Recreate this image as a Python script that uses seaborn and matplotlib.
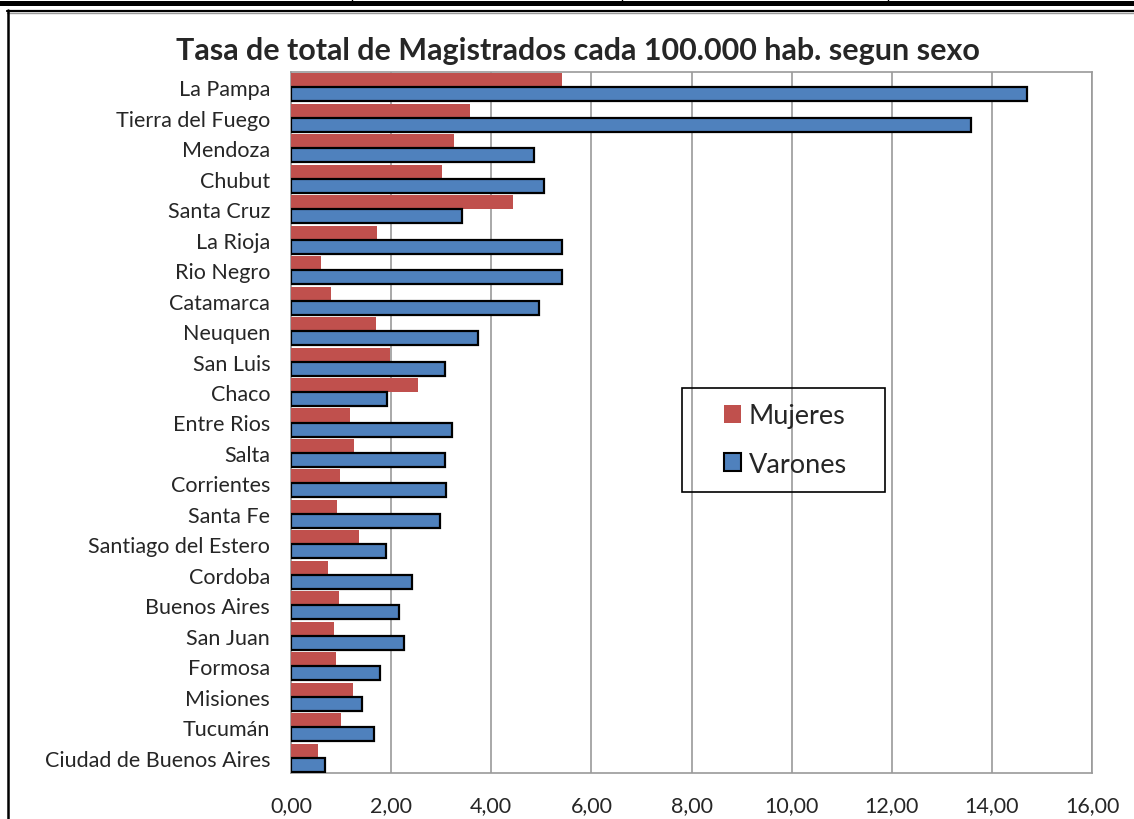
import matplotlib
matplotlib.use("Agg")
import matplotlib.pyplot as plt
import seaborn as sns
import pandas as pd
from matplotlib.lines import Line2D
from matplotlib.patches import Rectangle

provincias = ["La Pampa", "Tierra del Fuego", "Mendoza", "Chubut", "Santa Cruz",
              "La Rioja", "Rio Negro", "Catamarca", "Neuquen", "San Luis", "Chaco",
              "Entre Rios", "Salta", "Corrientes", "Santa Fe", "Santiago del Estero",
              "Cordoba", "Buenos Aires", "San Juan", "Formosa", "Misiones", "Tucumán",
              "Ciudad de Buenos Aires"]
mujeres = [5.41, 3.58, 3.25, 3.01, 4.44, 1.71, 0.60, 0.79, 1.70, 1.98, 2.54,
           1.18, 1.26, 0.97, 0.91, 1.35, 0.73, 0.96, 0.85, 0.90, 1.23, 0.99, 0.53]
varones = [14.70, 13.58, 4.85, 5.06, 3.42, 5.41, 5.41, 4.95, 3.74, 3.08, 1.92,
           3.22, 3.07, 3.09, 2.98, 1.90, 2.42, 2.16, 2.25, 1.78, 1.41, 1.65, 0.67]
series = ["Mujeres", "Varones"]
xticks = [0, 2, 4, 6, 8, 10, 12, 14, 16]
title = "Tasa de total de Magistrados cada 100.000 hab. segun sexo"

df = pd.DataFrame({
    "Provincia": provincias * 2,
    "Tasa": mujeres + varones,
    "Sexo": [series[0]] * len(provincias) + [series[1]] * len(provincias),
})

sns.set_style("white")
plt.rcParams["font.family"] = ["Lato", "DejaVu Sans"]

W, H = 1134, 820
fig = plt.figure(figsize=(W / 100, H / 100), dpi=100)
ax = fig.add_axes([291 / W, 1 - 774 / H, (1092 - 291) / W, (774 - 73) / H])

colors = {"Mujeres": "#C0504D", "Varones": "#4F81BD"}
sns.barplot(data=df, y="Provincia", x="Tasa", hue="Sexo", hue_order=series,
            order=provincias, palette=colors, orient="h", width=0.92,
            saturation=1, ax=ax, zorder=3, legend=False)

for bar in ax.containers[0]:
    bar.set_edgecolor("none")
    bar.set_linewidth(0)
for bar in ax.containers[1]:
    bar.set_edgecolor("black")
    bar.set_linewidth(1.6)

ax.set_xlim(0, 16)
ax.set_xticks(xticks)
ax.set_xticklabels([f"{v:.2f}".replace(".", ",") for v in xticks], fontsize=15.5)
ax.set_ylim(len(provincias) - 0.5, -0.5)
ax.tick_params(axis="y", length=0, pad=15, labelsize=15.5)
ax.tick_params(axis="x", length=0, pad=16)
ax.set_xlabel("")
ax.set_ylabel("")
ax.grid(axis="x", color="#9a9a9a", linewidth=1.2, zorder=0)
ax.set_axisbelow(True)
for s in ax.spines.values():
    s.set_color("#9a9a9a")
    s.set_linewidth(1.2)

fig.text(578 / W, 1 - 51 / H, title, ha="center", va="center",
         fontsize=22, fontweight="bold")

# legend (frame drawn separately to match the wide box)
handles = [Rectangle((0, 0), 1, 1, facecolor=colors["Mujeres"], edgecolor="none"),
           Rectangle((0, 0), 1, 1, facecolor=colors["Varones"], edgecolor="black", linewidth=1.5)]
leg = fig.legend(handles, series, loc="center left", bbox_to_anchor=(724 / W, 1 - 441 / H),
                 fontsize=19.5, frameon=False,
                 handlelength=0.62, handleheight=0.62, handletextpad=0.3,
                 labelspacing=0.85, borderpad=0, borderaxespad=0)
fig.add_artist(Rectangle((682 / W, 1 - 493 / H), (885 - 682) / W, (493 - 389) / H,
                         transform=fig.transFigure, facecolor="none",
                         edgecolor="black", linewidth=1.2, zorder=5))

# outer frame decorations
def px_line(x0, y0, x1, y1, color="black", lw=1.0):
    fig.add_artist(Line2D([x0 / W, x1 / W], [1 - y0 / H, 1 - y1 / H],
                          color=color, linewidth=lw, transform=fig.transFigure))

fig.add_artist(Rectangle((0, 1 - 7 / H), 1, 5 / H, transform=fig.transFigure,
                         facecolor="black", edgecolor="none"))
for xv in [352, 622, 888]:
    px_line(xv, 0, xv, 3, lw=1.0)
px_line(7, 11.5, W, 11.5, lw=1.6)
px_line(7, 13.5, W, 13.5, color="#9a9a9a", lw=1.0)
px_line(7.5, 11, 7.5, H, lw=1.8)

fig.savefig("out.png", dpi=100)
